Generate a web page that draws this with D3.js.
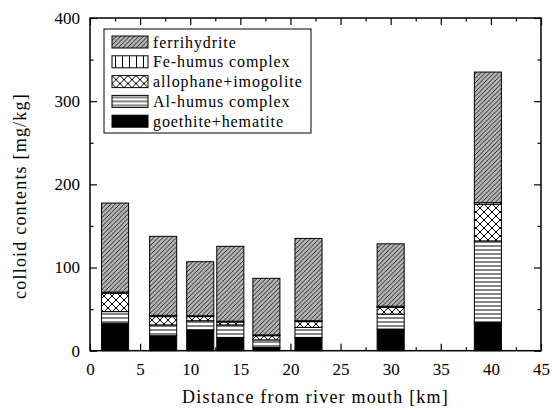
<!DOCTYPE html>
<html>
<head>
<meta charset="utf-8">
<script src="https://cdn.jsdelivr.net/npm/d3@7"></script>
<style>
  body { margin: 0; background: #fff; }
</style>
</head>
<body>
<svg id="chart" width="552" height="410"></svg>
<script>
// distance of each sampling point [km]
var distances = [2.5, 7.3, 11, 14, 17.6, 21.8, 30, 39.7];
// colloid contents [mg/kg], one array per component (bottom to top)
var goethite     = [33, 18, 25, 16, 4, 16, 26, 34];
var alHumus      = [14, 13, 11, 15, 9, 12, 18, 98];
var allophane    = [22, 10, 5, 3.5, 5, 7, 8, 44];
var feHumus      = [1.5, 1.5, 1, 1, 1, 1, 1.5, 2];
var ferrihydrite = [107, 95, 65, 90, 68, 99, 75, 157];

var seriesKeys   = ["goethite", "alHumus", "allophane", "feHumus", "ferrihydrite"];
var legendLabels = ["ferrihydrite", "Fe-humus complex", "allophane+imogolite", "Al-humus complex", "goethite+hematite"];
var legendKeys   = ["ferrihydrite", "feHumus", "allophane", "alHumus", "goethite"];
var xTicks = [0, 5, 10, 15, 20, 25, 30, 35, 40, 45];
var yTicks = [0, 100, 200, 300, 400];

var FONT = "'Liberation Serif', 'Times New Roman', 'DejaVu Serif', serif";

var svg = d3.select("#chart");
var pLeft = 90, pRight = 541, pTop = 18, pBottom = 350.7;

var x = d3.scaleLinear().domain([0, 45]).range([pLeft, pRight]);
var y = d3.scaleLinear().domain([0, 400]).range([pBottom, pTop]);

// patterns
var defs = svg.append("defs");
var p1 = defs.append("pattern").attr("id", "ferrihydrite").attr("patternUnits", "userSpaceOnUse")
    .attr("width", 4.5).attr("height", 4.5);
p1.append("rect").attr("width", 4.5).attr("height", 4.5).attr("fill", "#b8b8b8");
p1.append("path").attr("d", "M0,4.5 L4.5,0 M-1,1 L1,-1 M3.5,5.5 L5.5,3.5")
    .attr("stroke", "#000").attr("stroke-width", 0.85);

var p2 = defs.append("pattern").attr("id", "feHumus").attr("patternUnits", "userSpaceOnUse")
    .attr("width", 7).attr("height", 7);
p2.append("rect").attr("width", 7).attr("height", 7).attr("fill", "#fff");
p2.append("path").attr("d", "M3.5,0 V7").attr("stroke", "#000").attr("stroke-width", 1);

var p3 = defs.append("pattern").attr("id", "allophane").attr("patternUnits", "userSpaceOnUse")
    .attr("width", 8).attr("height", 8);
p3.append("rect").attr("width", 8).attr("height", 8).attr("fill", "#fff");
p3.append("path").attr("d", "M0,0 L8,8 M8,0 L0,8").attr("stroke", "#000").attr("stroke-width", 1);

var p4 = defs.append("pattern").attr("id", "alHumus").attr("patternUnits", "userSpaceOnUse")
    .attr("width", 8).attr("height", 4);
p4.append("rect").attr("width", 8).attr("height", 4).attr("fill", "#fff");
p4.append("path").attr("d", "M0,2 H8").attr("stroke", "#333").attr("stroke-width", 1.2);

var fills = {
  goethite: "#000",
  alHumus: "url(#alHumus)",
  allophane: "url(#allophane)",
  feHumus: "url(#feHumus)",
  ferrihydrite: "url(#ferrihydrite)"
};

// table for the stack
var table = distances.map(function(d, i) {
  return { dist: d, goethite: goethite[i], alHumus: alHumus[i], allophane: allophane[i],
           feHumus: feHumus[i], ferrihydrite: ferrihydrite[i] };
});
var stacked = d3.stack().keys(seriesKeys)(table);

var barW = 2.7; // km
var bars = svg.append("g");
bars.selectAll("g.layer")
  .data(stacked)
  .enter().append("g")
  .attr("class", "layer")
  .attr("fill", function(s) { return fills[s.key]; })
  .selectAll("rect")
  .data(function(s) { return s; })
  .enter().append("rect")
  .attr("x", function(d) { return x(d.data.dist - barW / 2); })
  .attr("width", function(d) { return x(barW) - x(0); })
  .attr("y", function(d) { return y(d[1]); })
  .attr("height", function(d) { return y(d[0]) - y(d[1]); })
  .attr("stroke", "#000")
  .attr("stroke-width", 1);

// axes with inward ticks on all sides
function styleAxis(g) {
  g.select(".domain").remove();
  g.selectAll("line").attr("stroke", "#000").attr("stroke-width", 1.2);
  g.selectAll("text").style("font-family", FONT).style("font-size", "17px").attr("fill", "#000");
}
var xMinor = d3.range(2.5, 45, 5);
var yMinor = d3.range(50, 400, 100);

svg.append("g").attr("transform", "translate(0," + pBottom + ")")
  .call(d3.axisBottom(x).tickValues(xTicks).tickSize(-7).tickPadding(12).tickFormat(d3.format("d")))
  .call(styleAxis);
svg.append("g").attr("transform", "translate(0," + pBottom + ")")
  .call(d3.axisBottom(x).tickValues(xMinor).tickSize(-3.5).tickFormat(""))
  .call(styleAxis);
svg.append("g").attr("transform", "translate(0," + pTop + ")")
  .call(d3.axisTop(x).tickValues(xTicks).tickSize(-7).tickFormat(""))
  .call(styleAxis);
svg.append("g").attr("transform", "translate(0," + pTop + ")")
  .call(d3.axisTop(x).tickValues(xMinor).tickSize(-3.5).tickFormat(""))
  .call(styleAxis);

svg.append("g").attr("transform", "translate(" + pLeft + ",0)")
  .call(d3.axisLeft(y).tickValues(yTicks).tickSize(-7).tickPadding(10).tickFormat(d3.format("d")))
  .call(styleAxis);
svg.append("g").attr("transform", "translate(" + pLeft + ",0)")
  .call(d3.axisLeft(y).tickValues(yMinor).tickSize(-3.5).tickFormat(""))
  .call(styleAxis);
svg.append("g").attr("transform", "translate(" + pRight + ",0)")
  .call(d3.axisRight(y).tickValues(yTicks).tickSize(-7).tickFormat(""))
  .call(styleAxis);
svg.append("g").attr("transform", "translate(" + pRight + ",0)")
  .call(d3.axisRight(y).tickValues(yMinor).tickSize(-3.5).tickFormat(""))
  .call(styleAxis);

// frame
svg.append("rect")
  .attr("x", pLeft).attr("y", pTop)
  .attr("width", pRight - pLeft).attr("height", pBottom - pTop)
  .attr("fill", "none").attr("stroke", "#000").attr("stroke-width", 1.5);

// axis titles
svg.append("text")
  .attr("x", (pLeft + pRight) / 2).attr("y", 403)
  .attr("text-anchor", "middle").style("font-family", FONT).style("font-size", "18px")
  .attr("letter-spacing", 1.2)
  .text("Distance from river mouth [km]");
svg.append("text")
  .attr("transform", "translate(26,196) rotate(-90)")
  .attr("text-anchor", "middle").style("font-family", FONT).style("font-size", "18px")
  .attr("letter-spacing", 1.2)
  .text("colloid contents [mg/kg]");

// legend
var legend = svg.append("g");
legend.append("rect")
  .attr("x", 104).attr("y", 29).attr("width", 207).attr("height", 104)
  .attr("fill", "#fff").attr("stroke", "#000").attr("stroke-width", 1);
var rows = legend.selectAll("g.row")
  .data(legendKeys)
  .enter().append("g")
  .attr("class", "row")
  .attr("transform", function(d, i) { return "translate(112," + (36 + i * 19.8) + ")"; });
rows.append("rect")
  .attr("width", 36).attr("height", 12)
  .attr("fill", function(d) { return fills[d]; })
  .attr("stroke", "#000").attr("stroke-width", 1);
rows.append("text")
  .attr("x", 41).attr("y", 11.5)
  .style("font-family", FONT).style("font-size", "16px").attr("letter-spacing", 0.9)
  .text(function(d, i) { return legendLabels[i]; });
</script>
</body>
</html>
